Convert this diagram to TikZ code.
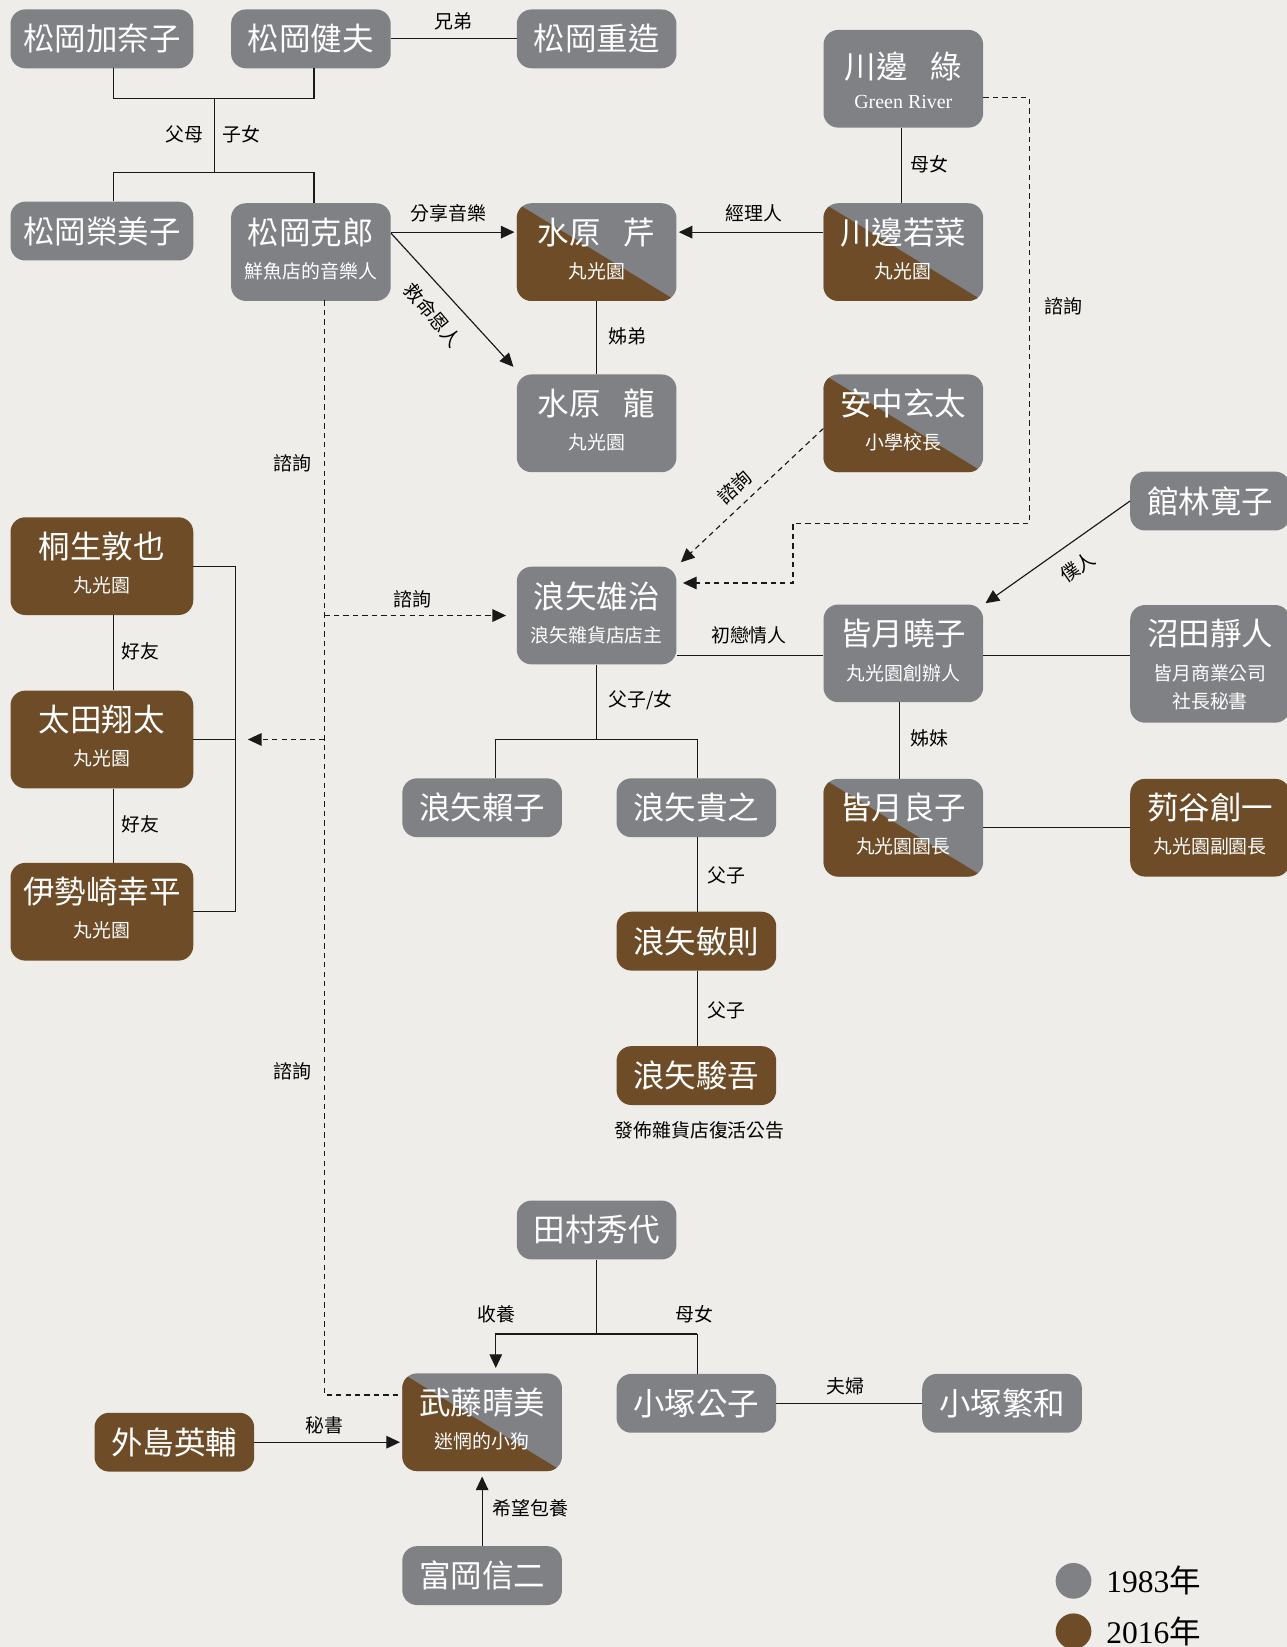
\documentclass[tikz,border=0pt]{standalone}
\usepackage{fontspec}
\setmainfont{Noto Sans CJK TC}
\newfontfamily\latinserif{Liberation Serif}
\usetikzlibrary{arrows.meta,calc}
\definecolor{bgc}{RGB}{238,237,233}
\definecolor{pgrey}{RGB}{128,129,133}
\definecolor{pbrown}{RGB}{109,76,39}
\definecolor{lnc}{RGB}{25,25,25}
\tikzset{
  box/.style={rectangle, rounded corners=14pt, inner sep=0pt, minimum width=152pt, text=white, font=\fontsize{30}{30}\selectfont},
  gb/.style={box, fill=pgrey},
  bb/.style={box, fill=pbrown},
  sb/.style={box, fill=pgrey, path picture={\fill[pbrown, sharp corners] (path picture bounding box.north west) -- (path picture bounding box.south east) -- (path picture bounding box.south west) -- cycle;}},
  one/.style={minimum height=56pt},
  two/.style={minimum height=93pt},
  three/.style={minimum height=112pt},
  wide/.style={minimum width=174pt},
  nm/.style={text=white, inner sep=0pt, font=\fontsize{30}{30}\selectfont},
  sub/.style={text=white, inner sep=0pt, font=\fontsize{18}{18}\selectfont},
  lab/.style={text=black, inner sep=0pt, font=\fontsize{18}{18}\selectfont},
  conn/.style={draw=lnc, line width=1.1pt},
  arr/.style={conn, -{Triangle[length=13pt,width=12pt]}},
  dsh/.style={conn, dash pattern=on 5pt off 4pt},
  darr/.style={dsh, -{Triangle[length=13pt,width=12pt]}},
}
\begin{document}
\begin{tikzpicture}[x=1pt, y=-1pt]
\fill[bgc] (0,0) rectangle (1225,1568);
\useasboundingbox (0,0) rectangle (1225,1568);

% ---------- nodes ----------
\node[gb, one, wide] (kanako) at (97,37) {松岡加奈子};
\node[gb, one] (takeo) at (296,37) {松岡健夫};
\node[gb, one] (juzo) at (568,37) {松岡重造};

\node[gb, two] (midori) at (860,75) {};
\node[nm] (midori-n) at ($(midori)+(0,-12)$) {川邊\hspace{22pt}綠};
\node[sub, font=\latinserif\fontsize{19}{19}\selectfont] (midori-s) at ($(midori)+(0,22)$) {Green River};

\node[gb, one, wide] (emiko) at (97,220) {松岡榮美子};

\node[gb, two] (katsuro) at (296,240) {};
\node[nm] (katsuro-n) at ($(katsuro)+(0,-19)$) {松岡克郎};
\node[sub] (katsuro-s) at ($(katsuro)+(0,18)$) {鮮魚店的音樂人};

\node[sb, two] (seri) at (568,240) {};
\node[nm] (seri-n) at ($(seri)+(0,-19)$) {水原\hspace{22pt}芹};
\node[sub] (seri-s) at ($(seri)+(0,18)$) {丸光園};

\node[sb, two] (wakana) at (860,240) {};
\node[nm] (wakana-n) at ($(wakana)+(0,-19)$) {川邊若菜};
\node[sub] (wakana-s) at ($(wakana)+(0,18)$) {丸光園};

\node[gb, two] (ryu) at (568,403) {};
\node[nm] (ryu-n) at ($(ryu)+(0,-19)$) {水原\hspace{22pt}龍};
\node[sub] (ryu-s) at ($(ryu)+(0,18)$) {丸光園};

\node[sb, two] (genta) at (860,403) {};
\node[nm] (genta-n) at ($(genta)+(0,-19)$) {安中玄太};
\node[sub] (genta-s) at ($(genta)+(0,18)$) {小學校長};

\node[gb, one] (hiroko) at (1152,477) {館林寛子};

\node[bb, two, wide] (atsuya) at (97,539) {};
\node[nm] (atsuya-n) at ($(atsuya)+(0,-19)$) {桐生敦也};
\node[sub] (atsuya-s) at ($(atsuya)+(0,18)$) {丸光園};

\node[gb, two] (yuji) at (568,586) {};
\node[nm] (yuji-n) at ($(yuji)+(0,-18)$) {浪矢雄治};
\node[sub] (yuji-s) at ($(yuji)+(0,19)$) {浪矢雜貨店店主};

\node[gb, two] (akiko) at (860,622) {};
\node[nm] (akiko-n) at ($(akiko)+(0,-19)$) {皆月曉子};
\node[sub] (akiko-s) at ($(akiko)+(0,19)$) {丸光園創辦人};

\node[gb, three] (shizuto) at (1152,632) {};
\node[nm] (shizuto-n) at ($(shizuto)+(0,-29)$) {沼田靜人};
\node[sub] (shizuto-s) at ($(shizuto)+(0,9)$) {皆月商業公司};
\node[sub] (shizuto-t) at ($(shizuto)+(0,36)$) {社長秘書};

\node[bb, two, wide] (shota) at (97,704) {};
\node[nm] (shota-n) at ($(shota)+(0,-19)$) {太田翔太};
\node[sub] (shota-s) at ($(shota)+(0,18)$) {丸光園};

\node[gb, one] (yoriko) at (459,769) {浪矢賴子};
\node[gb, one] (takayuki) at (663,769) {浪矢貴之};

\node[sb, two] (yoshiko) at (860,788) {};
\node[nm] (yoshiko-n) at ($(yoshiko)+(0,-19)$) {皆月良子};
\node[sub] (yoshiko-s) at ($(yoshiko)+(0,18)$) {丸光園園長};

\node[bb, two] (soichi) at (1152,788) {};
\node[nm] (soichi-n) at ($(soichi)+(0,-19)$) {茢谷創一};
\node[sub] (soichi-s) at ($(soichi)+(0,18)$) {丸光園副園長};

\node[bb, two, wide] (kohei) at (97,868) {};
\node[nm] (kohei-n) at ($(kohei)+(0,-19)$) {伊勢崎幸平};
\node[sub] (kohei-s) at ($(kohei)+(0,18)$) {丸光園};

\node[bb, one] (toshinori) at (663,896) {浪矢敏則};
\node[bb, one] (shungo) at (663,1024) {浪矢駿吾};
\node[lab] (shungo-c) at (666,1076) {發佈雜貨店復活公告};

\node[gb, one] (hideyo) at (568,1171) {田村秀代};

\node[sb, two] (harumi) at (459,1354) {};
\node[nm] (harumi-n) at ($(harumi)+(0,-19)$) {武藤晴美};
\node[sub] (harumi-s) at ($(harumi)+(0,18)$) {迷惘的小狗};

\node[gb, one] (kimiko) at (663,1336) {小塚公子};
\node[gb, one] (shigekazu) at (954,1336) {小塚繁和};
\node[bb, one] (eisuke) at (166,1373) {外島英輔};
\node[gb, one] (shinji) at (459,1500) {富岡信二};

% ---------- helper coordinates ----------
\coordinate (cK) at (108,94);
\coordinate (cT) at (299,94);
\coordinate (cM1) at (204,94);
\coordinate (cM2) at (204,164);
\coordinate (cE) at (108,164);
\coordinate (cKa) at (299,164);
\coordinate (gr1) at (980,93);
\coordinate (gr2) at (980,498);
\coordinate (gr3) at (755,498);
\coordinate (gr4) at (755,555);
\coordinate (fy) at (568,704);
\coordinate (fa) at (472,704);
\coordinate (fb) at (664,704);
\coordinate (fr) at (108,0);
\coordinate (bk1) at (224,539);
\coordinate (bk2) at (224,868);
\coordinate (bk3) at (224,704);
\coordinate (dtop) at (309,286);
\coordinate (d586) at (309,586);
\coordinate (d704) at (309,704);
\coordinate (dbot) at (309,1328);
\coordinate (dL) at (236,704);
\coordinate (ty) at (568,1270);
\coordinate (ta) at (472,1270);
\coordinate (tb) at (664,1270);

% ---------- connectors ----------
\draw[conn] (takeo.east) -- (juzo.west);
\draw[conn] (cK |- kanako.south) -- (cK) -- (cT) -- (cT |- takeo.south);
\draw[conn] (cM1) -- (cM2);
\draw[conn] (cE |- emiko.north) -- (cE) -- (cKa) -- (cKa |- katsuro.north);

\draw[arr] ($(katsuro.east)+(0,-19)$) -- ($(seri.west)+(-2,-19)$);
\draw[arr] ($(wakana.west)+(0,-19)$) -- ($(seri.east)+(2,-19)$);
\draw[conn] ($(midori.south)+(-2,0)$) -- ($(wakana.north)+(-2,0)$);
\draw[arr] ($(katsuro.east)+(0,-18)$) -- ($(ryu.north west)+(-3,-7)$);
\draw[conn] (seri.south) -- (ryu.north);
\draw[darr] ($(genta.west)+(0,5)$) -- ($(yuji.north east)+(4,-4)$);
\draw[darr] ($(midori.east)+(0,18)$) -- (gr1) -- (gr2) -- (gr3) -- (gr4) -- ($(yuji.east)+(6,-31)$);
\draw[arr] (hiroko.west) -- ($(akiko.north east)+(2,-1)$);
\draw[conn] ($(yuji.east)+(0,38)$) -- ($(akiko.west)+(0,2)$);
\draw[conn] ($(akiko.east)+(0,2)$) -- ($(shizuto.west)+(0,-8)$);
\draw[conn] ($(akiko.south)+(-4,0)$) -- ($(yoshiko.north)+(-4,0)$);
\draw[conn] (yoshiko.east) -- (soichi.west);

\draw[conn] (yuji.south) -- (fy);
\draw[conn] (fa |- yoriko.north) -- (fa) -- (fb) -- (fb |- takayuki.north);
\draw[conn] (fb |- takayuki.south) -- (fb |- toshinori.north);
\draw[conn] (fb |- toshinori.south) -- (fb |- shungo.north);

\draw[conn] (fr |- atsuya.south) -- (fr |- shota.north);
\draw[conn] (fr |- shota.south) -- (fr |- kohei.north);
\draw[conn] (atsuya.east) -- (bk1) -- (bk2) -- (kohei.east);
\draw[conn] (shota.east) -- (bk3);

\draw[dsh] (dtop) -- (dbot) -- ($(harumi.west)+(0,-26)$);
\draw[darr] (d586) -- ($(yuji.west)+(-10,0)$);
\draw[darr] (d704) -- (dL);

\draw[conn] (hideyo.south) -- (ty);
\draw[arr] (tb) -- (ta) -- ($(harumi.north)+(13,-5)$);
\draw[conn] (tb) -- (tb |- kimiko.north);
\draw[conn] (kimiko.east) -- (shigekazu.west);
\draw[arr] (eisuke.east) -- ($(harumi.west)+(-2,19)$);
\draw[arr] (shinji.north) -- ($(harumi.south)+(0,5)$);

% ---------- labels ----------
\node[lab] (l-xd) at (432,20) {兄弟};
\node[lab] (l-fm) at (176,128) {父母};
\node[lab] (l-zn) at (230,128) {子女};
\node[lab] (l-fx) at (427,203) {分享音樂};
\node[lab] (l-jl) at (718,203) {經理人};
\node[lab] (l-mn) at (885,156) {母女};
\node[lab, rotate=-50] (l-jm) at (412,300) {救命恩人};
\node[lab] (l-zd) at (597,320) {姊弟};
\node[lab] (l-zx1) at (278,441) {諮詢};
\node[lab, rotate=43] (l-zx2) at (699,464) {諮詢};
\node[lab] (l-zx3) at (1012,292) {諮詢};
\node[lab, rotate=35] (l-pr) at (1026,540) {僕人};
\node[lab] (l-zx4) at (393,571) {諮詢};
\node[lab] (l-cl) at (713,605) {初戀情人};
\node[lab] (l-hy1) at (134,620) {好友};
\node[lab] (l-hy2) at (134,785) {好友};
\node[lab] (l-fzn) at (610,667) {父子/女};
\node[lab] (l-zm) at (885,703) {姊妹};
\node[lab] (l-fz1) at (692,833) {父子};
\node[lab] (l-fz2) at (692,962) {父子};
\node[lab] (l-zx5) at (278,1020) {諮詢};
\node[lab] (l-sy) at (473,1251) {收養};
\node[lab] (l-mn2) at (661,1251) {母女};
\node[lab] (l-ff) at (805,1320) {夫婦};
\node[lab] (l-ms) at (309,1357) {秘書};
\node[lab] (l-xw) at (505,1436) {希望包養};

% ---------- legend ----------
\node[circle, fill=pgrey, minimum size=34pt, inner sep=0pt] (lg1) at (1022,1505) {};
\node[circle, fill=pbrown, minimum size=34pt, inner sep=0pt] (lg2) at (1022,1553) {};
\node[anchor=west, inner sep=0pt, font=\fontsize{30}{30}\selectfont] (lt1) at (1053,1505) {{\latinserif 1983}年};
\node[anchor=west, inner sep=0pt, font=\fontsize{30}{30}\selectfont] (lt2) at (1053,1553) {{\latinserif 2016}年};
\end{tikzpicture}
\end{document}
